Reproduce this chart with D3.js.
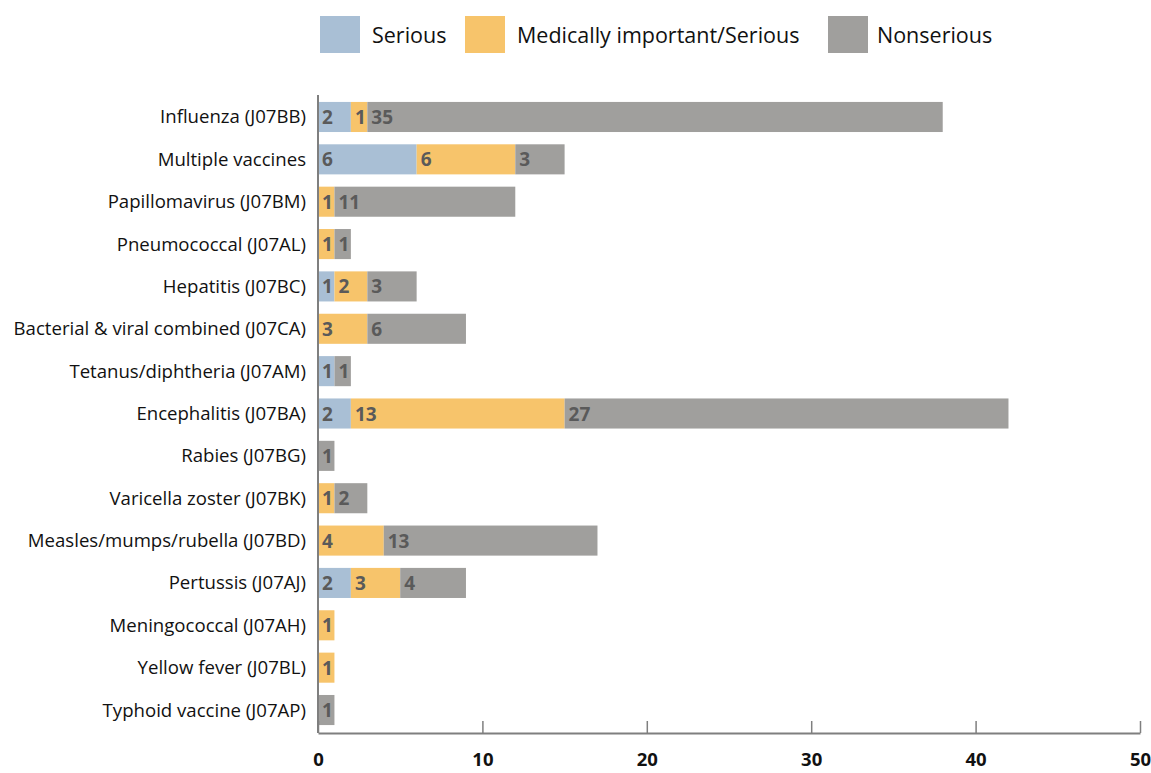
<!DOCTYPE html>
<html lang="en">
<head>
    <meta charset="UTF-8">
    <script src="https://cdn.jsdelivr.net/npm/d3@7"></script>
    <style>
        body { margin: 0; background: #fff; }
        text { font-family: "Open Sans", "Noto Sans", sans-serif; }
    </style>
</head>
<body>
<svg width="1151" height="773"></svg>
<script>
    // categories, top to bottom
    var categories = [
        "Influenza (J07BB)", "Multiple vaccines", "Papillomavirus (J07BM)",
        "Pneumococcal (J07AL)", "Hepatitis (J07BC)", "Bacterial & viral combined (J07CA)",
        "Tetanus/diphtheria (J07AM)", "Encephalitis (J07BA)", "Rabies (J07BG)",
        "Varicella zoster (J07BK)", "Measles/mumps/rubella (J07BD)", "Pertussis (J07AJ)",
        "Meningococcal (J07AH)", "Yellow fever (J07BL)", "Typhoid vaccine (J07AP)"
    ];
    var serious    = [2, 6, 0, 0, 1, 0, 1, 2, 0, 0, 0, 2, 0, 0, 0];
    var medical    = [1, 6, 1, 1, 2, 3, 0, 13, 0, 1, 4, 3, 1, 1, 0];
    var nonserious = [35, 3, 11, 1, 3, 6, 1, 27, 1, 2, 13, 4, 0, 0, 1];
    var seriesNames = ["Serious", "Medically important/Serious", "Nonserious"];
    var colors = ["#a9bfd5", "#f7c46b", "#a09f9d"];
    var xTicks = [0, 10, 20, 30, 40, 50];

    var svg = d3.select("svg");
    var x = d3.scaleLinear().domain([0, 50]).range([318, 1140]);
    var y = d3.scaleBand().domain(categories).range([95.8, 731.2])
        .paddingInner(0.29).paddingOuter(0.145);

    var rows = categories.map(function (c, i) {
        return {cat: c, vals: [serious[i], medical[i], nonserious[i]]};
    });
    var stack = d3.stack().keys([0, 1, 2]).value(function (d, k) { return d.vals[k]; });
    var layers = stack(rows);

    // bars
    var g = svg.append("g");
    layers.forEach(function (layer, k) {
        layer.forEach(function (seg, i) {
            var v = seg[1] - seg[0];
            if (v <= 0) return;
            g.append("rect")
                .attr("x", x(seg[0]))
                .attr("y", y(categories[i]))
                .attr("width", x(seg[1]) - x(seg[0]))
                .attr("height", y.bandwidth())
                .attr("fill", colors[k]);
            g.append("text")
                .attr("x", x(seg[0]) + 4)
                .attr("y", y(categories[i]) + y.bandwidth() / 2)
                .attr("dy", "0.37em")
                .attr("font-size", 19)
                .attr("font-weight", "bold")
                .attr("fill", "#5a5a5a")
                .text(v);
        });
    });

    // y axis
    svg.append("line")
        .attr("x1", x(0)).attr("x2", x(0))
        .attr("y1", 95).attr("y2", 733)
        .attr("stroke", "#7f7f7f").attr("stroke-width", 2);
    svg.append("g").selectAll("text")
        .data(categories)
        .enter()
        .append("text")
        .attr("x", 306)
        .attr("y", function (d) { return y(d) + y.bandwidth() / 2; })
        .attr("dy", "0.35em")
        .attr("text-anchor", "end")
        .attr("font-size", 18.6)
        .attr("fill", "#111")
        .text(function (d) { return d; });

    // x axis
    var xAxis = svg.append("g")
        .attr("transform", "translate(0,733)")
        .call(d3.axisBottom(x).tickValues(xTicks).tickSize(-12).tickPadding(16).tickSizeOuter(0));
    xAxis.select(".domain").attr("stroke", "#7f7f7f").attr("stroke-width", 2);
    xAxis.selectAll(".tick line").attr("stroke", "#7f7f7f").attr("stroke-width", 1.5);
    xAxis.selectAll(".tick text")
        .attr("y", 27)
        .attr("dy", "0.35em")
        .attr("font-size", 18.5)
        .attr("font-weight", "bold")
        .attr("font-family", "'Open Sans', sans-serif")
        .attr("fill", "#111");

    // legend
    var legendX = [320, 465, 828];
    var legend = svg.append("g");
    seriesNames.forEach(function (name, k) {
        legend.append("rect")
            .attr("x", legendX[k]).attr("y", 16)
            .attr("width", 40).attr("height", 37)
            .attr("fill", colors[k]);
        legend.append("text")
            .attr("x", legendX[k] + (k === 2 ? 49 : 52)).attr("y", 35)
            .attr("dy", "0.35em")
            .attr("font-size", 21.5)
            .attr("fill", "#111")
            .text(name);
    });
</script>
</body>
</html>
